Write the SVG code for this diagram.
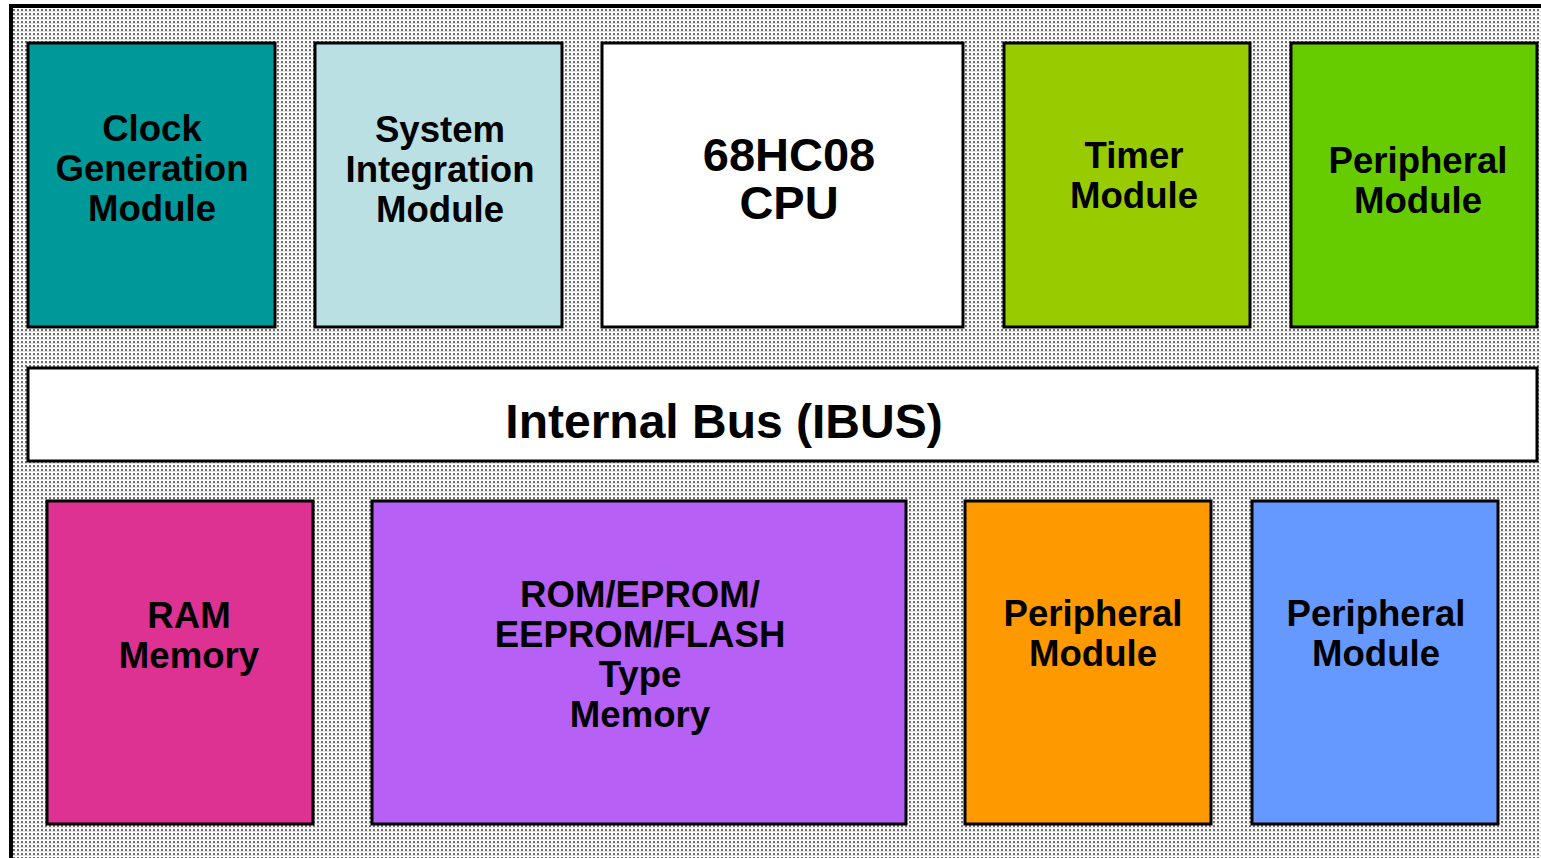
<svg xmlns="http://www.w3.org/2000/svg" width="1541" height="858" viewBox="0 0 1541 858">
  <defs>
    <pattern id="dots" x="0" y="0" width="4" height="4" patternUnits="userSpaceOnUse">
      <rect width="4" height="4" fill="#ffffff"/>
      <rect x="1" y="1" width="2" height="2" fill="#6e6e6e"/>
      <rect x="0" y="3" width="4" height="1" fill="#e0e0e0"/>
    </pattern>
  </defs>
  <style>
    .box { stroke: #000; stroke-width: 3; }
    .lbl { font-family: "Liberation Sans", Arial, sans-serif; font-weight: bold; font-size: 36.6px; fill: #000; text-anchor: middle; }
    .big { font-size: 47px; }
  </style>
  <rect width="1541" height="858" fill="#ffffff"/>
  <rect id="frame" x="11" y="6" width="1545" height="870" fill="url(#dots)" stroke="#000" stroke-width="4"/>

  <g id="clock">
    <rect class="box" x="28" y="43" width="247" height="284" fill="#009999"/>
    <text class="lbl" x="152" y="141">Clock</text>
    <text class="lbl" x="152" y="181">Generation</text>
    <text class="lbl" x="152" y="221">Module</text>
  </g>
  <g id="sim">
    <rect class="box" x="315" y="43" width="247" height="284" fill="#bbe0e3"/>
    <text class="lbl" x="440" y="142">System</text>
    <text class="lbl" x="440" y="182">Integration</text>
    <text class="lbl" x="440" y="222">Module</text>
  </g>
  <g id="cpu">
    <rect class="box" x="602" y="43" width="361" height="284" fill="#ffffff"/>
    <text class="lbl big" x="789" y="171">68HC08</text>
    <text class="lbl big" x="789" y="219">CPU</text>
  </g>
  <g id="timer">
    <rect class="box" x="1004" y="43" width="246" height="284" fill="#99cc00"/>
    <text class="lbl" x="1134" y="168">Timer</text>
    <text class="lbl" x="1134" y="208">Module</text>
  </g>
  <g id="periph1">
    <rect class="box" x="1291" y="43" width="246" height="284" fill="#66cc00"/>
    <text class="lbl" x="1418" y="173">Peripheral</text>
    <text class="lbl" x="1418" y="213">Module</text>
  </g>
  <g id="ibus">
    <rect class="box" x="28" y="368" width="1509" height="93" fill="#ffffff"/>
    <text class="lbl" style="font-size:48px" x="724" y="438">Internal Bus (IBUS)</text>
  </g>
  <g id="ram">
    <rect class="box" x="47" y="501" width="266" height="323" fill="#dd3292"/>
    <text class="lbl" x="189" y="628">RAM</text>
    <text class="lbl" x="189" y="668">Memory</text>
  </g>
  <g id="rom">
    <rect class="box" x="372" y="501" width="534" height="323" fill="#b660f5"/>
    <text class="lbl" x="640" y="607">ROM/EPROM/</text>
    <text class="lbl" x="640" y="647">EEPROM/FLASH</text>
    <text class="lbl" x="640" y="687">Type</text>
    <text class="lbl" x="640" y="727">Memory</text>
  </g>
  <g id="periph2">
    <rect class="box" x="965" y="501" width="246" height="323" fill="#ff9900"/>
    <text class="lbl" x="1093" y="626">Peripheral</text>
    <text class="lbl" x="1093" y="666">Module</text>
  </g>
  <g id="periph3">
    <rect class="box" x="1252" y="501" width="246" height="323" fill="#6699ff"/>
    <text class="lbl" x="1376" y="626">Peripheral</text>
    <text class="lbl" x="1376" y="666">Module</text>
  </g>
  <g id="connectors"></g>
</svg>
